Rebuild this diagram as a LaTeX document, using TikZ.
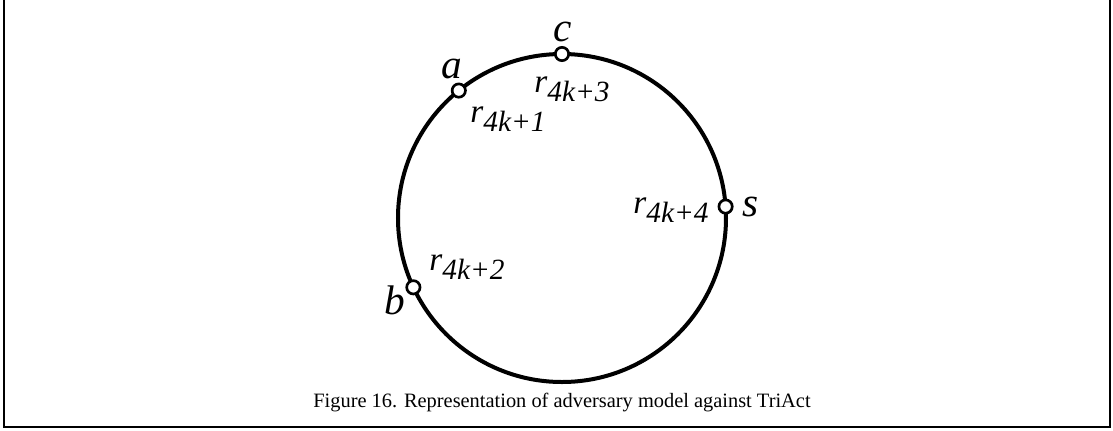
\documentclass[tikz,border=0pt]{standalone}
\usepackage{fontspec}
\setmainfont{Liberation Serif}
\usetikzlibrary{positioning}

\begin{document}
\begin{tikzpicture}[
  x=0.75pt, y=0.75pt,
  ring/.style={line width=3pt, black},
  station/.style={circle, draw=black, line width=2pt, fill=white, minimum size=10pt, inner sep=0pt},
  proc/.style={font=\fontsize{31}{31}\selectfont\itshape, inner sep=0pt},
  rlbl/.style={font=\fontsize{25}{25}\selectfont\itshape, inner sep=0pt}
]
\useasboundingbox (-562,-212) rectangle (551,218);
% frame (open at the top)
\draw[line width=1.6pt] (-558,218) -- (-558,-209) -- (548,-209) -- (548,218);

\draw[ring] (0,0) circle (164);

\node[station] (a) at (129:164) {};
\node[station] (c) at (90:164) {};
\node[station] (s) at (4:164) {};
\node[station] (b) at (205:164) {};

\node[proc] (la) at (-110,149) {a};
\node[proc] (lc) at (1,186) {c};
\node[proc] (ls) at (189,11) {s};
\node[proc] (lb) at (-167,-82) {b};

\node[rlbl] (ra) at (-54,99) {r\raisebox{-7pt}{\fontsize{22}{22}\selectfont 4k+1}};
\node[rlbl] (rc) at (10,129) {r\raisebox{-7pt}{\fontsize{22}{22}\selectfont 4k+3}};
\node[rlbl] (rs) at (109,8) {r\raisebox{-7pt}{\fontsize{22}{22}\selectfont 4k+4}};
\node[rlbl] (rb) at (-95,-49) {r\raisebox{-7pt}{\fontsize{22}{22}\selectfont 4k+2}};

\node[font=\fontsize{15.3}{15.3}\selectfont] (cap) at (0,-185) {Figure 16. Representation of adversary model against TriAct};
\end{tikzpicture}
\end{document}
